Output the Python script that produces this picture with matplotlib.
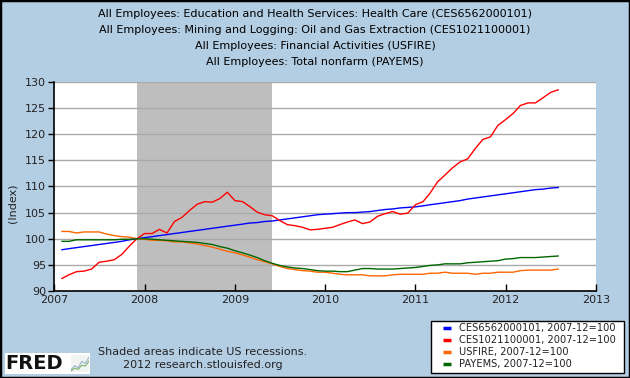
import matplotlib
matplotlib.use("Agg")
import matplotlib.pyplot as plt
import matplotlib.dates as mdates
import pandas as pd
from matplotlib.patches import Rectangle
from matplotlib.lines import Line2D

# ---------------- data (monthly, Feb 2007 .. Aug 2012, index 2007-12=100) ----------------
start_month = "2007-02-01"
health_care = [
    97.9, 98.1, 98.3, 98.5, 98.7, 98.9, 99.1, 99.3, 99.5, 99.8, 100.0,
    100.2, 100.4, 100.6, 100.8, 101.0, 101.2, 101.4, 101.6, 101.8, 102.0, 102.2, 102.4,
    102.6, 102.8, 103.0, 103.1, 103.3, 103.4, 103.6, 103.8, 104.0, 104.2, 104.4, 104.6,
    104.7, 104.8, 104.9, 105.0, 105.0, 105.1, 105.2, 105.4, 105.6, 105.7, 105.9, 106.0,
    106.1, 106.3, 106.5, 106.7, 106.9, 107.1, 107.3, 107.6, 107.8, 108.0, 108.2, 108.4,
    108.6, 108.8, 109.0, 109.2, 109.4, 109.5, 109.7, 109.8,
]
oil_gas = [
    92.4, 93.1, 93.7, 93.8, 94.2, 95.5, 95.7, 96.0, 97.0, 98.6, 100.0,
    101.0, 101.0, 101.8, 101.1, 103.3, 104.1, 105.4, 106.6, 107.1, 107.0, 107.7, 108.9,
    107.3, 107.1, 106.2, 105.1, 104.6, 104.4, 103.5, 102.7, 102.5, 102.2, 101.7, 101.8,
    102.0, 102.2, 102.7, 103.2, 103.6, 102.9, 103.2, 104.3, 104.8, 105.2, 104.7, 104.9,
    106.5, 107.1, 108.7, 110.9, 112.2, 113.6, 114.7, 115.3, 117.3, 119.0, 119.5, 121.7,
    122.8, 124.0, 125.5, 126.0, 126.0, 127.0, 128.0, 128.5,
]
financial = [
    101.4, 101.4, 101.1, 101.3, 101.3, 101.3, 100.9, 100.6, 100.4, 100.3, 100.0,
    99.9, 99.7, 99.7, 99.6, 99.4, 99.4, 99.2, 99.0, 98.7, 98.4, 98.0, 97.6,
    97.3, 96.9, 96.5, 96.0, 95.6, 95.2, 94.7, 94.3, 94.1, 93.9, 93.8, 93.6,
    93.6, 93.4, 93.2, 93.1, 93.1, 93.1, 92.9, 92.9, 92.9, 93.1, 93.2, 93.2,
    93.2, 93.2, 93.4, 93.4, 93.6, 93.4, 93.4, 93.4, 93.2, 93.4, 93.4, 93.6,
    93.6, 93.6, 93.9, 94.0, 94.0, 94.0, 94.0, 94.2,
]
nonfarm = [
    99.5, 99.5, 99.8, 99.8, 99.8, 99.8, 99.8, 99.8, 99.9, 99.9, 100.0,
    100.0, 99.9, 99.8, 99.7, 99.6, 99.5, 99.4, 99.3, 99.1, 98.9, 98.5, 98.2,
    97.7, 97.3, 96.9, 96.4, 95.8, 95.3, 94.9, 94.6, 94.4, 94.3, 94.1, 93.9,
    93.8, 93.8, 93.7, 93.7, 94.0, 94.3, 94.3, 94.2, 94.2, 94.2, 94.3, 94.4,
    94.5, 94.7, 94.9, 95.0, 95.2, 95.2, 95.2, 95.4, 95.5, 95.6, 95.7, 95.8,
    96.1, 96.2, 96.4, 96.4, 96.4, 96.5, 96.6, 96.7,
]
series_labels = ["CES6562000101, 2007-12=100", "CES1021100001, 2007-12=100",
                 "USFIRE, 2007-12=100", "PAYEMS, 2007-12=100"]
series_colors = ["#0000FF", "#FF0000", "#FF6600", "#006600"]
title_lines = [
    "All Employees: Education and Health Services: Health Care (CES6562000101)",
    "All Employees: Mining and Logging: Oil and Gas Extraction (CES1021100001)",
    "All Employees: Financial Activities (USFIRE)",
    "All Employees: Total nonfarm (PAYEMS)",
]
recession = ("2007-12-01", "2009-06-01")
y_ticks = [90, 95, 100, 105, 110, 115, 120, 125, 130]
x_years = [2007, 2008, 2009, 2010, 2011, 2012, 2013]

# ---------------- figure ----------------
W, H = 630, 378
BG = "#B3CDE3"
fig = plt.figure(figsize=(W / 100, H / 100), dpi=100, facecolor=BG)


def fx(px):
    return px / W


def fy(py):
    return 1 - py / H


fig.patches.append(Rectangle((0, 0), 1, 1, transform=fig.transFigure, fill=False,
                             edgecolor="black", linewidth=2.5, zorder=10))

ax = fig.add_axes([fx(54.3), fy(291), (596 - 54.3) / W, (291 - 82) / H])
ax.set_facecolor("white")

dates = pd.date_range(start_month, periods=len(health_care), freq="MS")
ax.axvspan(pd.Timestamp(recession[0]), pd.Timestamp(recession[1]),
           color="#BEBEBE", lw=0, zorder=0)
for yv in y_ticks:
    ax.axhline(yv, color="#AAAAAA", lw=1.0, zorder=1)

for vals, lab, col in zip([health_care, oil_gas, financial, nonfarm], series_labels, series_colors):
    ax.plot(dates, vals, color=col, lw=1.0, label=lab, zorder=3)

ax.set_xlim(pd.Timestamp(f"{x_years[0]}-01-01"), pd.Timestamp(f"{x_years[-1]}-01-01"))
ax.set_ylim(y_ticks[0], y_ticks[-1])
ax.set_yticks(y_ticks)
ax.set_xticks([pd.Timestamp(f"{y}-01-01") for y in x_years])
ax.xaxis.set_major_formatter(mdates.DateFormatter("%Y"))

for s in ["top", "right"]:
    ax.spines[s].set_visible(False)
for s in ["left", "bottom"]:
    ax.spines[s].set_color("black")
    ax.spines[s].set_linewidth(1.2)
ax.tick_params(axis="y", direction="out", length=4, width=1, labelsize=8, pad=2, colors="black")
ax.tick_params(axis="x", direction="in", length=5, width=1, labelsize=8, pad=3, colors="black")
for lbl in ax.get_xticklabels() + ax.get_yticklabels():
    lbl.set_color("#222222")

# titles
for i, t in enumerate(title_lines):
    fig.text(0.5, fy(14 + 16 * i), t, ha="center", va="center", fontsize=8.0, color="black")

fig.text(fx(13), fy(203), "(Index)", rotation=90, ha="center", va="center", fontsize=8, color="#222222")

# legend (drawn manually to match the FRED box layout)
fig.patches.append(Rectangle((fx(430.7), fy(373)), (624 - 430.7) / W, (373 - 321) / H,
                             transform=fig.transFigure, facecolor="white", edgecolor="black",
                             linewidth=1.0, zorder=5))
handles, labels = ax.get_legend_handles_labels()
for i, (h, lab) in enumerate(zip(handles, labels)):
    yy = fy(327.5 + 12 * i)
    fig.lines.append(Line2D([fx(443), fx(451)], [yy, yy], transform=fig.transFigure,
                            color=h.get_color(), lw=2.5, zorder=6, solid_capstyle="butt"))
    fig.text(fx(459), yy, lab, ha="left", va="center", fontsize=7.1, color="#222222", zorder=6)

# footer
fig.text(fx(203), fy(352), "Shaded areas indicate US recessions.", ha="center", va="center",
         fontsize=8, color="#222222")
fig.text(fx(203), fy(364.5), "2012 research.stlouisfed.org", ha="center", va="center",
         fontsize=8, color="#222222")

# FRED logo
fig.patches.append(Rectangle((fx(5), fy(374)), 85 / W, 21 / H, transform=fig.transFigure,
                             facecolor="white", edgecolor="none", zorder=5))
fig.text(fx(5.5), fy(363.5), "FRED", ha="left", va="center", fontsize=14, fontweight="bold",
         color="#111111", zorder=6)
logo = fig.add_axes([fx(71), fy(372), 18 / W, 17 / H])
logo.set_zorder(7)
logo.set_facecolor("#F2F4F2")
logo.plot([0, 1, 2, 3, 4, 5], [0.5, 1.5, 1.0, 2.5, 2.0, 3.5], color="#9BB5CF", lw=0.8)
logo.plot([0, 1, 2, 3, 4, 5], [0.2, 0.9, 0.6, 1.6, 1.4, 2.6], color="#7FB36B", lw=0.8)
logo.set_xlim(0, 5)
logo.set_ylim(0, 4)
logo.set_xticks([])
logo.set_yticks([])
for s in logo.spines.values():
    s.set_visible(False)

fig.savefig("out.png", dpi=100, facecolor=BG)
